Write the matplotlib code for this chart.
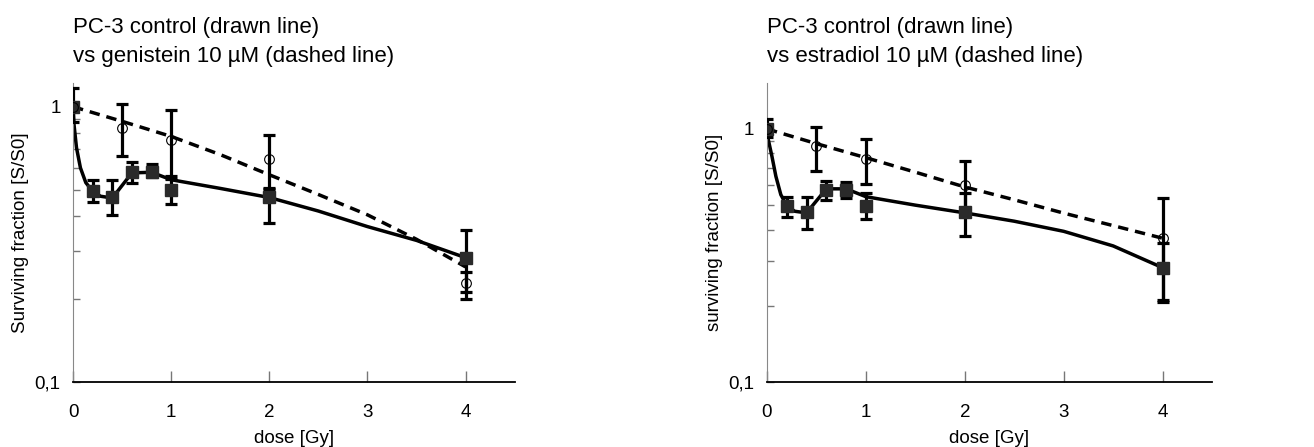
import numpy as np
import matplotlib
matplotlib.use("Agg")
import matplotlib.pyplot as plt
from matplotlib.ticker import FixedLocator, NullFormatter

plt.rcParams['font.family'] = ['Liberation Sans', 'DejaVu Sans']

# measured points, control (squares, drawn line)
ctrl_dose = [0, 0.2, 0.4, 0.6, 0.8, 1, 2, 4]
ctrl_sf_l = [1.0, 0.496, 0.469, 0.579, 0.578, 0.499, 0.470, 0.283]
ctrl_hi_l = [1.166, 0.543, 0.540, 0.630, 0.621, 0.558, 0.506, 0.357]
ctrl_lo_l = [0.88, 0.452, 0.405, 0.530, 0.555, 0.444, 0.378, 0.201]

ctrl_sf_r = [1.0, 0.495, 0.469, 0.576, 0.576, 0.498, 0.469, 0.283]
ctrl_hi_r = [1.095, 0.539, 0.539, 0.625, 0.620, 0.559, 0.559, 0.355]
ctrl_lo_r = [0.93, 0.449, 0.403, 0.523, 0.532, 0.441, 0.379, 0.211]

# treated (open circles, dashed line)
trt_dose = [0, 0.5, 1, 2, 4]
gen_sf = [1.0, 0.840, 0.760, 0.647, 0.228]
gen_hi = [1.0, 1.025, 0.975, 0.791, 0.252]
gen_lo = [1.0, 0.660, 0.545, 0.503, 0.213]

est_sf = [1.0, 0.854, 0.761, 0.603, 0.371]
est_hi = [1.0, 1.020, 0.913, 0.749, 0.534]
est_lo = [1.0, 0.680, 0.607, 0.457, 0.208]

# fitted curves
fit_ctrl_dose_l = [0, 0.01, 0.035, 0.075, 0.13, 0.2, 0.28, 0.4, 0.6, 0.8, 1.0, 1.5, 2, 2.5, 3, 3.5, 4]
fit_ctrl_l = [1.0, 0.86, 0.71, 0.60, 0.53, 0.493, 0.473, 0.466, 0.575, 0.578, 0.543, 0.505, 0.468, 0.418, 0.367, 0.327, 0.283]
fit_ctrl_dose_r = [0, 0.01, 0.05, 0.09, 0.14, 0.2, 0.28, 0.4, 0.6, 0.8, 1.0, 1.5, 2, 2.5, 3, 3.5, 4]
fit_ctrl_r = [1.0, 0.92, 0.78, 0.65, 0.55, 0.498, 0.473, 0.466, 0.58, 0.58, 0.54, 0.50, 0.466, 0.432, 0.394, 0.345, 0.283]

fit_trt_dose = [0, 0.5, 1, 1.5, 2, 2.5, 3, 3.5, 4]
fit_gen = [1.0, 0.885, 0.78, 0.67, 0.566, 0.48, 0.405, 0.33, 0.262]
fit_est = [1.0, 0.875, 0.77, 0.675, 0.59, 0.525, 0.465, 0.415, 0.37]

x_ticks = [0, 1, 2, 3, 4]
y_ticks = [0.1, 1]
y_ticklabels = ['0,1', '1']

fig = plt.figure(figsize=(13.14, 4.47), dpi=100)
ax1 = fig.add_axes([0.0556, 0.1454, 0.336, 0.669])
ax2 = fig.add_axes([0.5837, 0.1454, 0.3387, 0.669])


def panel(ax, sf_c, hi_c, lo_c, fd_c, fv_c, sf_t, hi_t, lo_t, fv_t, ytop, title, ylabel):
    sf_c = np.array(sf_c)
    sf_t = np.array(sf_t)
    ax.plot(fit_trt_dose, fv_t, color='black', lw=2.5, ls=(0, (3, 2)), zorder=2)
    ax.plot(fd_c, fv_c, color='black', lw=2.5, zorder=2)
    ax.errorbar(trt_dose, sf_t, yerr=[sf_t - np.array(lo_t), np.array(hi_t) - sf_t],
                fmt='none', ecolor='black', elinewidth=2.3, capsize=4, capthick=2.3, zorder=3)
    ax.errorbar(ctrl_dose, sf_c, yerr=[sf_c - np.array(lo_c), np.array(hi_c) - sf_c],
                fmt='none', ecolor='black', elinewidth=2.3, capsize=4, capthick=2.3, zorder=3)
    ax.plot(ctrl_dose, sf_c, 's', color='#2a2a2a', ms=8.5, zorder=4)
    ax.plot(trt_dose, sf_t, 'o', mfc='none', mec='black', mew=0.8, ms=7, zorder=4)

    ax.set_yscale('log')
    ax.set_xlim(0, 4.5)
    ax.set_ylim(0.1, ytop)
    ax.xaxis.set_major_locator(FixedLocator(x_ticks))
    ax.yaxis.set_major_locator(FixedLocator(y_ticks))
    ax.set_yticklabels(y_ticklabels)
    ax.yaxis.set_minor_locator(FixedLocator([0.2, 0.3, 0.4, 0.5, 0.6, 0.7, 0.8, 0.9]))
    ax.yaxis.set_minor_formatter(NullFormatter())
    ax.tick_params(axis='x', direction='in', length=8, width=1, color='#777777',
                   labelsize=13.5, pad=16)
    ax.tick_params(axis='y', which='both', direction='in', length=5, width=1,
                   color='#777777', labelsize=13.5, pad=9)
    for s in ['top', 'right']:
        ax.spines[s].set_visible(False)
    ax.spines['left'].set_color('#888888')
    ax.spines['bottom'].set_color('black')
    ax.spines['bottom'].set_linewidth(1.3)
    ax.set_xlabel('dose [Gy]', fontsize=13.5, labelpad=6)
    ax.set_ylabel(ylabel, fontsize=13.5, labelpad=4)
    ax.set_title(title, loc='left', fontsize=16, pad=15, linespacing=1.5)


panel(ax1, ctrl_sf_l, ctrl_hi_l, ctrl_lo_l, fit_ctrl_dose_l, fit_ctrl_l,
      gen_sf, gen_hi, gen_lo, fit_gen, 1.22,
      'PC-3 control (drawn line)\nvs genistein 10 µM (dashed line)',
      'Surviving fraction [S/S0]')
panel(ax2, ctrl_sf_r, ctrl_hi_r, ctrl_lo_r, fit_ctrl_dose_r, fit_ctrl_r,
      est_sf, est_hi, est_lo, fit_est, 1.52,
      'PC-3 control (drawn line)\nvs estradiol 10 µM (dashed line)',
      'surviving fraction [S/S0]')

fig.savefig('out.png', dpi=100)
